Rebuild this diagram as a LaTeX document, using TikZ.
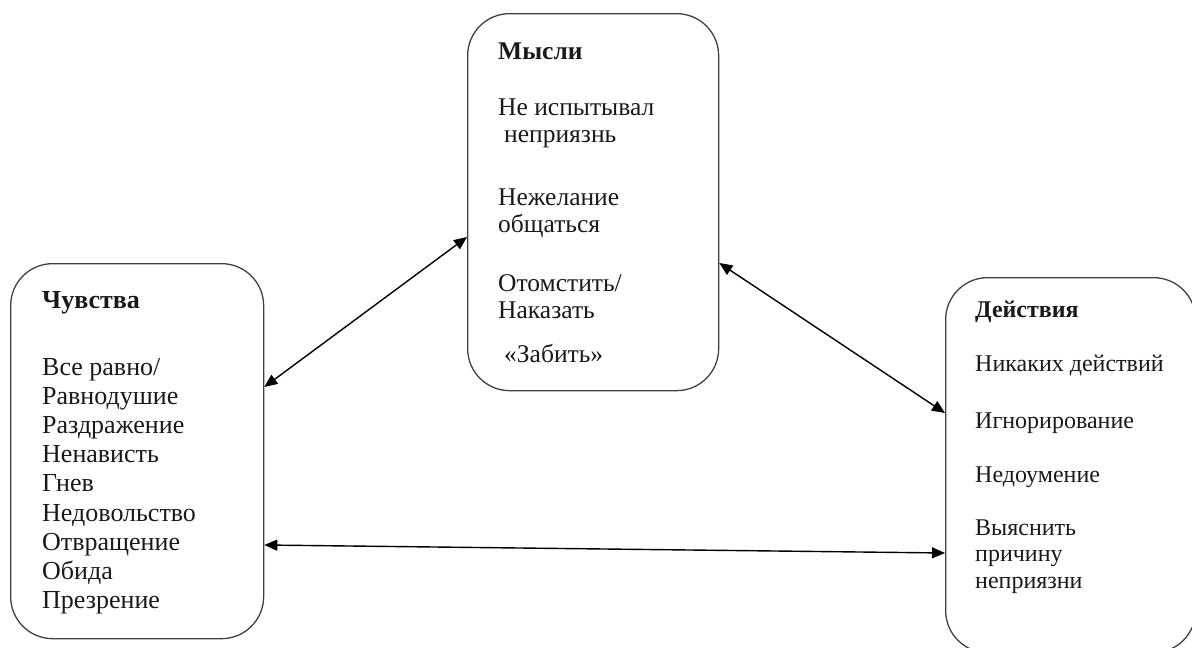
\documentclass[tikz,border=0pt]{standalone}
\usepackage{fontspec}
\setmainfont{Liberation Serif}
\usetikzlibrary{arrows.meta}
\begin{document}
\begin{tikzpicture}[x=1pt,y=-1pt,
  box/.style={draw=black!75,line width=1.3pt,rounded corners=42pt,anchor=north west,inner sep=0pt},
  txt/.style={anchor=base west,inner sep=0pt,text=black!90},
  lt/.style={txt,font=\fontsize{26}{29}\selectfont},
  mt/.style={txt,font=\fontsize{25.5}{27}\selectfont},
  rt/.style={txt,font=\fontsize{24}{26.5}\selectfont},
  arr/.style={{Triangle[length=13pt,width=11pt]}-{Triangle[length=13pt,width=11pt]},line width=1.4pt,black}]
\useasboundingbox (0,0) rectangle (1192,648);
\clip (0,0) rectangle (1192,648);
% boxes
\node[box,minimum width=253pt,minimum height=375pt] (L) at (10,263) {};
\node[box,minimum width=251pt,minimum height=377pt] (M) at (467,13) {};
\node[box,minimum width=250pt,minimum height=375pt] (R) at (945,277) {};
% left texts
\node[lt,font=\fontsize{26}{29}\selectfont\bfseries] (l0) at (42,308) {Чувства};
\node[lt] (l1) at (42,375) {Все равно/};
\node[lt] (l2) at (42,404.2) {Равнодушие};
\node[lt] (l3) at (42,433.4) {Раздражение};
\node[lt] (l4) at (42,462.6) {Ненависть};
\node[lt] (l5) at (42,491.8) {Гнев};
\node[lt] (l6) at (42,521) {Недовольство};
\node[lt] (l7) at (42,550.2) {Отвращение};
\node[lt] (l8) at (42,579.4) {Обида};
\node[lt] (l9) at (42,608.6) {Презрение};
% middle texts
\node[mt,font=\fontsize{25.5}{27}\selectfont\bfseries] (m0) at (498,59) {Мысли};
\node[mt] (m1) at (498,115) {Не испытывал};
\node[mt] (m2) at (504,142) {неприязнь};
\node[mt] (m3) at (498,205) {Нежелание};
\node[mt] (m4) at (498,232) {общаться};
\node[mt] (m5) at (498,291) {Отомстить/};
\node[mt] (m6) at (498,318) {Наказать};
\node[mt] (m7) at (504,362) {«Забить»};
% right texts
\node[rt,font=\fontsize{24}{26.5}\selectfont\bfseries] (r0) at (975,317) {Действия};
\node[rt] (r1) at (975,371) {Никаких действий};
\node[rt] (r2) at (975,428) {Игнорирование};
\node[rt] (r3) at (975,482) {Недоумение};
\node[rt] (r4) at (975,535) {Выяснить};
\node[rt] (r5) at (975,561.5) {причину};
\node[rt] (r6) at (975,588) {неприязни};
% connectors
\draw[arr] ([yshift=-124pt]L.north east) -- ([yshift=-224pt]M.north west);
\draw[arr] ([yshift=-250pt]M.north east) -- ([yshift=-136pt]R.north west);
\draw[arr] ([yshift=-282pt]L.north east) -- ([yshift=-276pt]R.north west);
\end{tikzpicture}
\end{document}
